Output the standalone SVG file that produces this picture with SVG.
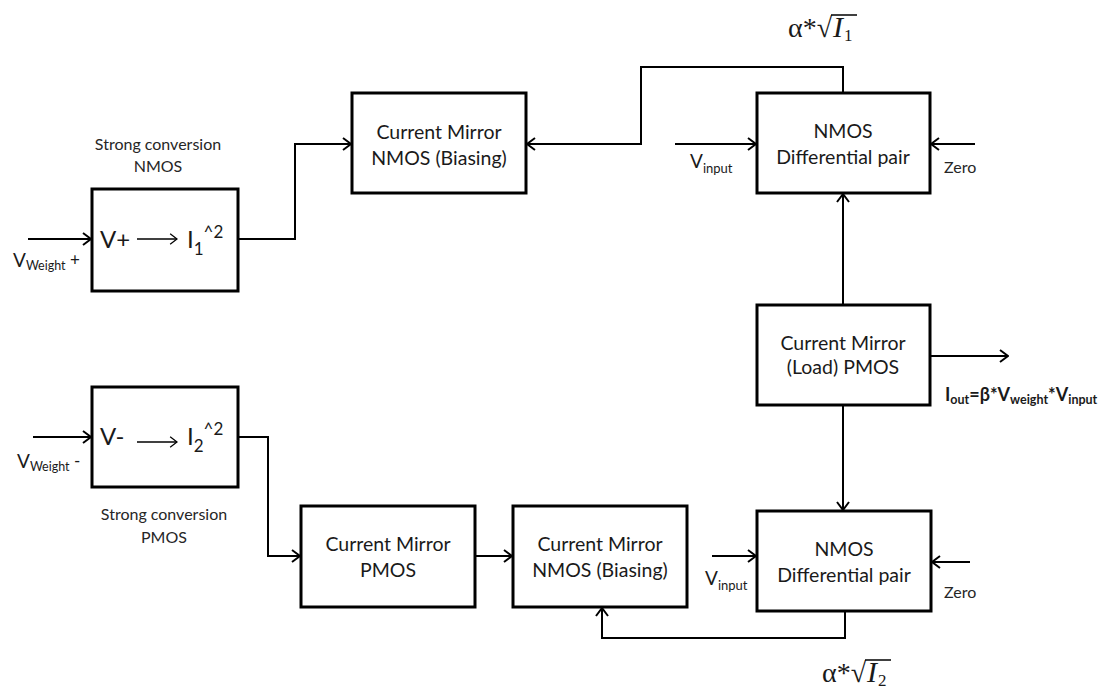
<svg xmlns="http://www.w3.org/2000/svg" width="1102" height="691" viewBox="0 0 1102 691">
<defs>
<style>
.box{fill:#fff;stroke:#000;stroke-width:3}
.ln{fill:none;stroke:#000;stroke-width:2}
.thin{fill:none;stroke:#000;stroke-width:1.5}
text{font-family:Lato,"Open Sans",sans-serif;fill:#1a1a1a}
.bt{font-size:19.5px;text-anchor:middle}
.sm{font-size:16px;text-anchor:middle;fill:#262626}
.lab{font-size:19px}
.sub{font-size:13px}
.big{font-size:24px}
.math{font-family:"Liberation Serif","DejaVu Serif",serif;font-size:28px}
.out{font-weight:bold;font-size:18px}
.osub{font-size:12.5px}
</style>
<marker id="arr" viewBox="0 0 10 14" refX="9" refY="7" markerWidth="10" markerHeight="14" markerUnits="userSpaceOnUse" orient="auto">
<path d="M1,1 L9,7 L1,13" fill="none" stroke="#000" stroke-width="2"/>
</marker>
<marker id="arrs" viewBox="0 0 10 14" refX="9" refY="7" markerWidth="9" markerHeight="12" markerUnits="userSpaceOnUse" orient="auto">
<path d="M1,1 L9,7 L1,13" fill="none" stroke="#000" stroke-width="1.5"/>
</marker>
</defs>
<rect width="1102" height="691" fill="#fff"/>

<g id="connectors">
<path class="ln" d="M28,239 H91" marker-end="url(#arr)"/>
<path class="ln" d="M238,239 H295 V144 H351" marker-end="url(#arr)"/>
<path class="ln" d="M843,93 V67 H641 V144 H527" marker-end="url(#arr)"/>
<path class="ln" d="M675,144 H756" marker-end="url(#arr)"/>
<path class="ln" d="M975,144 H931" marker-end="url(#arr)"/>
<path class="ln" d="M843,305 V194" marker-end="url(#arr)"/>
<path class="ln" d="M843,405 V510" marker-end="url(#arr)"/>
<path class="ln" d="M930,356 H1008" marker-end="url(#arr)"/>
<path class="ln" d="M33,437 H91" marker-end="url(#arr)"/>
<path class="ln" d="M238,437 H268 V556 H300" marker-end="url(#arr)"/>
<path class="ln" d="M475,556 H512" marker-end="url(#arr)"/>
<path class="ln" d="M712,556 H756" marker-end="url(#arr)"/>
<path class="ln" d="M970,562 H932" marker-end="url(#arr)"/>
<path class="ln" d="M845,611 V638 H602 V608" marker-end="url(#arr)"/>
</g>

<g id="conv-nmos">
<rect class="box" x="92" y="189" width="146" height="102"/>
<text class="big" x="100" y="248">V+</text>
<path class="thin" d="M137,239 H177" marker-end="url(#arrs)"/>
<text class="big" x="187" y="248">I<tspan font-size="17" dy="7">1</tspan><tspan font-size="17" dy="-17">^2</tspan></text>
</g>

<g id="conv-pmos">
<rect class="box" x="92" y="387" width="146" height="100"/>
<text class="big" x="100" y="445">V-</text>
<path class="thin" d="M137,442 H177" marker-end="url(#arrs)"/>
<text class="big" x="187" y="445">I<tspan font-size="17" dy="7">2</tspan><tspan font-size="17" dy="-17">^2</tspan></text>
</g>

<g id="cm-nmos-top">
<rect class="box" x="352" y="93" width="174" height="100"/>
<text class="bt" x="439" y="139">Current Mirror</text>
<text class="bt" x="439" y="165">NMOS (Biasing)</text>
</g>

<g id="diff-top">
<rect class="box" x="757" y="93" width="173" height="100"/>
<text class="bt" x="843" y="138">NMOS</text>
<text class="bt" x="843" y="164">Differential pair</text>
</g>

<g id="cm-load">
<rect class="box" x="757" y="305" width="173" height="100"/>
<text class="bt" x="843" y="350">Current Mirror</text>
<text class="bt" x="843" y="374">(Load) PMOS</text>
</g>

<g id="diff-bottom">
<rect class="box" x="757" y="511" width="174" height="100"/>
<text class="bt" x="844" y="556">NMOS</text>
<text class="bt" x="844" y="582">Differential pair</text>
</g>

<g id="cm-pmos">
<rect class="box" x="301" y="506" width="174" height="101"/>
<text class="bt" x="388" y="551">Current Mirror</text>
<text class="bt" x="388" y="577">PMOS</text>
</g>

<g id="cm-nmos-bottom">
<rect class="box" x="513" y="506" width="174" height="101"/>
<text class="bt" x="600" y="551">Current Mirror</text>
<text class="bt" x="600" y="577">NMOS (Biasing)</text>
</g>

<g id="labels">
<text class="sm" x="158" y="150">Strong conversion</text>
<text class="sm" x="158" y="172">NMOS</text>
<text class="sm" x="164" y="520">Strong conversion</text>
<text class="sm" x="164" y="543">PMOS</text>
<text class="lab" x="13" y="267">V<tspan font-size="12.5" dy="3">Weight</tspan><tspan font-size="17" dy="-4"> +</tspan></text>
<text class="lab" x="17" y="468">V<tspan font-size="12.5" dy="3">Weight</tspan><tspan font-size="17" dy="-4"> -</tspan></text>
<text class="lab" x="690" y="168">V<tspan class="sub" dy="5">input</tspan></text>
<text class="lab" x="705" y="585">V<tspan class="sub" dy="5">input</tspan></text>
<text class="sm" x="944" y="173" style="text-anchor:start">Zero</text>
<text class="sm" x="944" y="598" style="text-anchor:start">Zero</text>
<text class="out" x="945" y="401">I<tspan class="osub" dy="3">out</tspan><tspan dy="-3">=β*V</tspan><tspan class="osub" dy="3">weight</tspan><tspan dy="-3">*V</tspan><tspan class="osub" dy="3">input</tspan></text>
<text class="math" x="788" y="37">α*√<tspan font-style="italic" font-size="30" dx="1">I</tspan><tspan font-size="17" dy="4" dx="1">1</tspan></text>
<line class="thin" x1="831" y1="15" x2="857" y2="15"/>
<text class="math" x="822" y="682">α*√<tspan font-style="italic" font-size="30" dx="1">I</tspan><tspan font-size="17" dy="4" dx="1">2</tspan></text>
<line class="thin" x1="865" y1="660" x2="891" y2="660"/>
</g>
</svg>
